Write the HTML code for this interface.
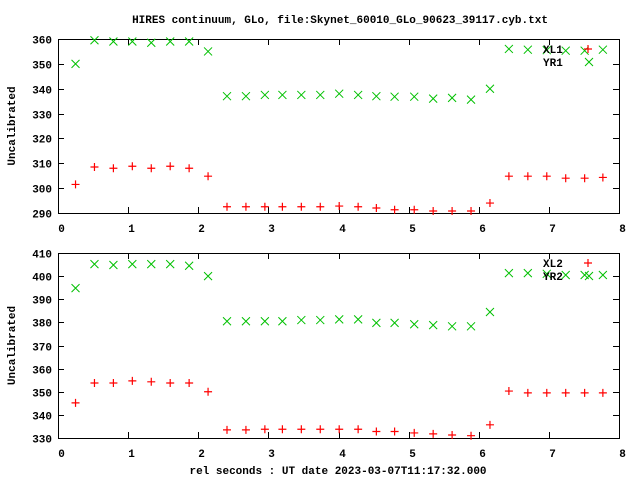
<!DOCTYPE html>
<html><head><meta charset="utf-8"><style>
html,body{margin:0;padding:0;background:#fff;}
svg{display:block;}
text{font-family:"Liberation Mono","DejaVu Sans Mono",monospace;font-size:11px;font-weight:bold;fill:#000;}
</style></head><body>
<svg id="chart" width="640" height="480" viewBox="0 0 640 480" xmlns="http://www.w3.org/2000/svg">
<rect width="640" height="480" fill="#fff"/>
<text x="340" y="23" text-anchor="middle">HIRES continuum, GLo, file:Skynet_60010_GLo_90623_39117.cyb.txt</text>
<text x="338" y="474" text-anchor="middle">rel seconds : UT date 2023-03-07T11:17:32.000</text>
<g id="g"></g>
</svg>
<script>
const xs = [0.25,0.52,0.79,1.06,1.33,1.6,1.87,2.14,2.41,2.68,2.95,3.2,3.47,3.74,4.01,4.28,4.54,4.8,5.08,5.35,5.62,5.89,6.16,6.43,6.7,6.97,7.24,7.51,7.77];
const yr1 = [350,359.5,359,359,358.5,359,359,355,337,337,337.5,337.5,337.5,337.5,338,337.5,337,336.8,336.8,336,336.3,335.6,340,356,355.7,355.5,355.3,355.3,355.7];
const xl1 = [301.5,308.5,308,308.8,308,308.8,308,304.8,292.5,292.5,292.5,292.5,292.5,292.5,292.8,292.5,292,291.3,291.3,290.8,290.8,290.8,294,304.8,304.8,304.8,304,304,304.3];
const yr2 = [394.8,405.2,404.8,405.2,405.2,405.2,404.5,400,380.5,380.5,380.5,380.5,381,381,381.3,381.3,379.8,379.8,379.2,378.8,378.3,378.3,384.5,401.3,401.3,401,400.5,400.5,400.5];
const xl2 = [345.2,353.8,353.8,354.7,354.3,353.8,353.8,350,333.5,333.5,333.8,333.8,333.8,333.8,333.8,333.8,332.8,332.8,332.2,331.8,331.3,331,335.7,350.3,349.5,349.5,349.5,349.5,349.5];
const xTicks = [0,1,2,3,4,5,6,7,8];
const yTicks1 = [290,300,310,320,330,340,350,360];
const yTicks2 = [330,340,350,360,370,380,390,400,410];

const NS="http://www.w3.org/2000/svg";
const g=document.getElementById('g');
function mk(tag,attrs,parent){const e=document.createElementNS(NS,tag);for(const k in attrs)e.setAttribute(k,attrs[k]);(parent||g).appendChild(e);return e;}

function panel(name,top,bottom,ymin,ymax,yTicks,sA,sB,nameA,nameB){
  const L=58,R=619;
  const X=v=>L+(v-0)/(8-0)*(R-L);
  const Y=v=>bottom-(v-ymin)/(ymax-ymin)*(bottom-top);
  const pg=mk('g',{});
  
  
  const fr=mk('rect',{x:L+0.5,y:top+0.5,width:R-L,height:bottom-top,fill:'none',stroke:'#000','stroke-width':1},pg);
  
  
  yTicks.forEach(t=>{
    const y=Math.round(Y(t))+0.5;
    mk('line',{x1:L,x2:L+6,y1:y,y2:y,stroke:'#000'},pg);
    mk('line',{x1:R-6,x2:R,y1:y,y2:y,stroke:'#000'},pg);
    const tx=mk('text',{x:L-6,y:y+4,'text-anchor':'end'},pg);
    tx.textContent=t;
    
    
  });
  xTicks.forEach(t=>{
    const x=Math.round(X(t))+0.5;
    mk('line',{x1:x,x2:x,y1:bottom,y2:bottom-6,stroke:'#000'},pg);
    mk('line',{x1:x,x2:x,y1:top,y2:top+6,stroke:'#000'},pg);
    const tx=mk('text',{x:x+3,y:bottom+19,'text-anchor':'middle'},pg);
    tx.textContent=t;
    
    
  });
  const yl=mk('text',{x:0,y:0,'text-anchor':'middle',transform:`translate(15,${(top+bottom)/2}) rotate(-90)`},pg);
  yl.textContent='Uncalibrated';
  
  
  function cross(x,y,c){const e=mk('path',{d:`M${x-4},${y-4}L${x+4},${y+4}M${x-4},${y+4}L${x+4},${y-4}`,stroke:c,'stroke-width':1,fill:'none'},pg);return e;}
  function plus(x,y,c){const e=mk('path',{d:`M${x-4},${y}L${x+4},${y}M${x},${y-4}L${x},${y+4}`,stroke:c,'stroke-width':1.2,fill:'none'},pg);return e;}
  xs.forEach((v,i)=>{
    const p=plus(X(v),Y(sA[i]),'#ff0000');
    
    
    const c=cross(X(v),Y(sB[i]),'#00c000');
    
    
  });
  const la=mk('text',{x:543,y:top+14},pg);la.textContent=nameA;
  
  
  const lb=mk('text',{x:543,y:top+27},pg);lb.textContent=nameB;
  
  
  const ma=plus(588,top+10,'#ff0000');
  
  
  const mb=cross(589,top+23,'#00c000');
  
  
}
panel('top-panel',39,213,290,360,yTicks1,xl1,yr1,'XL1','YR1');
panel('bottom-panel',253,438,330,410,yTicks2,xl2,yr2,'XL2','YR2');
</script>
</body></html>
